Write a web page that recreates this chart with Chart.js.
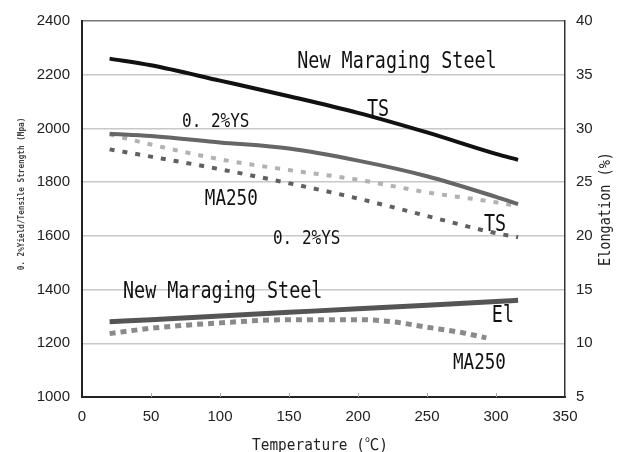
<!DOCTYPE html>
<html>
<head>
<meta charset="utf-8">
<script src="https://cdn.jsdelivr.net/npm/chart.js@4.4.1/dist/chart.umd.min.js"></script>
<style>
html,body{margin:0;padding:0;background:#fff;}
#wrap{width:625px;height:452px;position:relative;}
</style>
</head>
<body>
<div id="wrap"><canvas id="c"></canvas></div>
<script>
// ---- data ----
const temps      = [20, 50, 100, 150, 200, 250, 300, 316];
const nmsTS      = [2260, 2235, 2178, 2120, 2058, 1985, 1905, 1883];
const nmsYS      = [1980, 1972, 1948, 1925, 1880, 1822, 1745, 1718];
const ma250YS    = [1978, 1940, 1885, 1845, 1809, 1762, 1725, 1710];
const ma250TS    = [1922, 1895, 1848, 1796, 1739, 1674, 1610, 1595];
const nmsEl      = [12.0, 12.2, 12.54, 12.88, 13.22, 13.55, 13.89, 14.0];
const ma250ElT   = [20, 50, 100, 150, 200, 225, 250, 275, 293];
const ma250El    = [10.9, 11.4, 11.9, 12.2, 12.2, 12.0, 11.5, 11.0, 10.5];
const xTicks     = [0, 50, 100, 150, 200, 250, 300, 350];
const yTicks     = [1000, 1200, 1400, 1600, 1800, 2000, 2200, 2400];
const y2Ticks    = [5, 10, 15, 20, 25, 30, 35, 40];

// text annotations: [text, x value, y value (left axis), font size]
const notes = [
  ['New Maraging Steel', 156, 2226, 23],
  ['TS', 206.5, 2048, 23],
  ['0. 2%YS', 72.5, 2004, 20],
  ['MA250', 89, 1715, 22],
  ['0. 2%YS', 138.4, 1570, 20],
  ['TS', 291.3, 1619, 23],
  ['New Maraging Steel', 29.7, 1367, 23],
  ['El', 297, 1281, 23],
  ['MA250', 268.8, 1104, 22]
];
const xTitle  = 'Temperature (℃)';
const yTitle  = '0. 2%Yield/Tensile Strength (Mpa)';
const y2Title = 'Elongation (%)';

const pts = (xs, ys) => xs.map((x, i) => ({x: x, y: ys[i]}));
const MONO = "'DejaVu Sans Mono', 'Liberation Mono', 'Noto Sans CJK JP', monospace";

function drawText(ctx, text, x, y, size, sx, align, rot, color, weight) {
  ctx.save();
  ctx.translate(x, y);
  if (rot) ctx.rotate(rot);
  ctx.scale(sx, 1);
  ctx.font = (weight || 'normal') + ' ' + size + 'px ' + MONO;
  ctx.fillStyle = color || '#111';
  ctx.textAlign = align;
  ctx.textBaseline = 'alphabetic';
  ctx.fillText(text, 0, 0);
  ctx.restore();
}

const textPlugin = {
  id: 'texts',
  afterDatasetsDraw(chart) {
    const ctx = chart.ctx;
    const xs = chart.scales.x, ys = chart.scales.y;
    const ca = chart.chartArea;
    // small inner tick marks on x axis
    ctx.save();
    ctx.strokeStyle = '#aaa';
    ctx.lineWidth = 1;
    xTicks.slice(1, -1).forEach(v => {
      const px = Math.round(xs.getPixelForValue(v)) + 0.5;
      ctx.beginPath();
      ctx.moveTo(px, ca.bottom);
      ctx.lineTo(px, ca.bottom - 4);
      ctx.stroke();
    });
    ctx.restore();
    notes.forEach(n => {
      drawText(ctx, n[0], xs.getPixelForValue(n[1]), ys.getPixelForValue(n[2]), n[3], 0.8, 'left', 0, '#111');
    });
    // axis titles
    drawText(ctx, xTitle, 320, 450, 16, 0.9, 'center', 0, '#222');
    drawText(ctx, yTitle, 24, 194, 8, 0.96, 'center', -Math.PI / 2, '#444', 'bold');
    drawText(ctx, y2Title, 610, 209, 15, 0.9, 'center', -Math.PI / 2, '#222');
  }
};

const tickFont = {family: "'Liberation Sans', Arial, sans-serif", size: 15};
const plain = v => String(v);

new Chart(document.getElementById('c'), {
  type: 'line',
  data: {
    datasets: [
      {label: 'NMS TS', data: pts(temps, nmsTS), yAxisID: 'y', borderColor: '#111', borderWidth: 4},
      {label: 'NMS 0.2%YS', data: pts(temps, nmsYS), yAxisID: 'y', borderColor: '#666', borderWidth: 4},
      {label: 'MA250 0.2%YS', data: pts(temps, ma250YS), yAxisID: 'y', borderColor: '#b2b2b2', borderWidth: 4, borderDash: [5, 8]},
      {label: 'MA250 TS', data: pts(temps, ma250TS), yAxisID: 'y', borderColor: '#606060', borderWidth: 4, borderDash: [5, 8]},
      {label: 'NMS El', data: pts(temps, nmsEl), yAxisID: 'y2', borderColor: '#555', borderWidth: 5},
      {label: 'MA250 El', data: pts(ma250ElT, ma250El), yAxisID: 'y2', borderColor: '#8a8a8a', borderWidth: 5, borderDash: [6, 5]}
    ]
  },
  options: {
    responsive: true,
    maintainAspectRatio: false,
    animation: false,
    layout: {padding: {top: 20, left: 0, right: 0, bottom: 0}},
    elements: {
      point: {radius: 0},
      line: {cubicInterpolationMode: 'monotone', borderCapStyle: 'butt', fill: false}
    },
    plugins: {legend: {display: false}, tooltip: {enabled: false}},
    scales: {
      x: {
        type: 'linear', min: 0, max: 350,
        afterBuildTicks: s => { s.ticks = xTicks.map(v => ({value: v})); },
        ticks: {font: tickFont, color: '#222', padding: 11, maxRotation: 0, callback: plain},
        grid: {drawOnChartArea: false, drawTicks: false},
        border: {color: '#222', width: 2},
        afterFit: s => { s.height = 55; }
      },
      y: {
        position: 'left', min: 1000, max: 2400,
        afterBuildTicks: s => { s.ticks = yTicks.map(v => ({value: v})); },
        ticks: {font: tickFont, color: '#222', padding: 12, callback: plain},
        grid: {
          drawTicks: false,
          color: c => (c.tick && c.tick.value === 2400) ? '#777' : '#c8c8c8',
          lineWidth: 1.5
        },
        border: {color: '#222', width: 2},
        afterFit: s => { s.width = 82; }
      },
      y2: {
        position: 'right', min: 5, max: 40,
        afterBuildTicks: s => { s.ticks = y2Ticks.map(v => ({value: v})); },
        ticks: {font: tickFont, color: '#222', padding: 11, callback: plain},
        grid: {drawOnChartArea: false, drawTicks: false},
        border: {color: '#333', width: 1.5},
        afterFit: s => { s.width = 60; }
      }
    }
  },
  plugins: [textPlugin]
});
</script>
</body>
</html>
